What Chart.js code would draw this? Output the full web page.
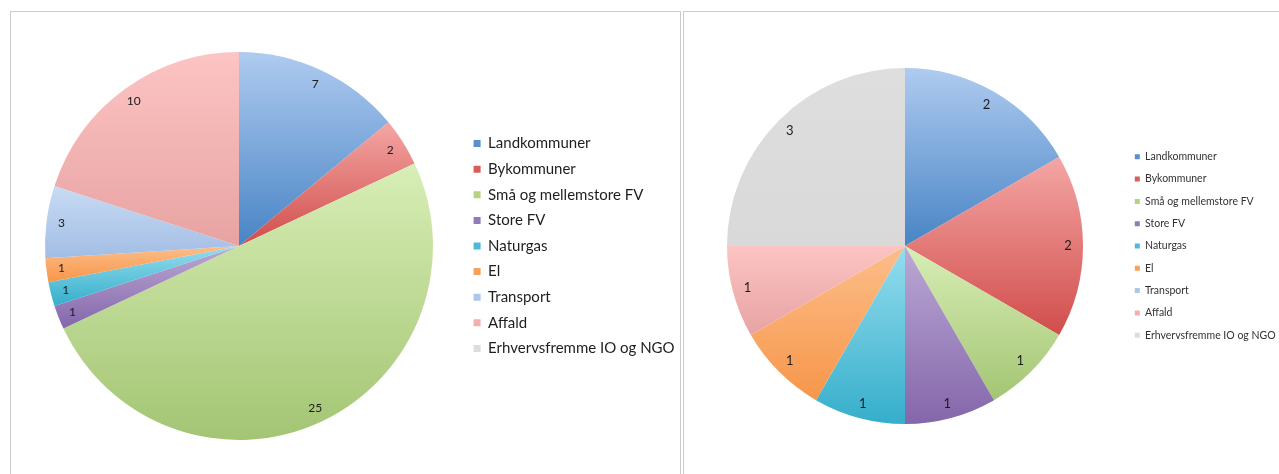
<!DOCTYPE html>
<html>
<head>
<meta charset="utf-8">
<script src="https://cdn.jsdelivr.net/npm/chart.js"></script>
<style>
  body { margin: 0; background: #fff; overflow: hidden; width: 1279px; height: 474px; position: relative; }
  .panel { position: absolute; top: 11px; height: 480px; border: 1px solid #cbcbcb; border-bottom: none; overflow: hidden; background: #fff; }
  #p1 { left: 10px; width: 669px; }
  #p2 { left: 683px; width: 620px; }
  canvas { position: absolute; left: 0; top: 0; }
</style>
</head>
<body>
<div class="panel" id="p1"><canvas id="leftChart" width="700" height="468"></canvas></div>
<div class="panel" id="p2"><canvas id="rightChart" width="640" height="468"></canvas></div>
<script>
const categories = ['Landkommuner', 'Bykommuner', 'Små og mellemstore FV', 'Store FV', 'Naturgas', 'El', 'Transport', 'Affald', 'Erhvervsfremme IO og NGO'];
const leftValues = [7, 2, 25, 1, 1, 1, 3, 10, 0];
const rightValues = [2, 2, 1, 1, 1, 1, 0, 1, 3];

// swatch colour + top/bottom gradient stops for each slice
const baseColors = ['#5b8fcf', '#d75d5b', '#b3d47f', '#9479b8', '#4fbad6', '#f9a05a', '#adc7ec', '#f1b0af', '#dcdcdc'];
const lightColors = ['#afcbf0', '#f4a6a4', '#d8eeb6', '#bba9d5', '#95ddee', '#fcbe8a', '#c8dbf3', '#fcc4c3', '#dedede'];
const darkColors = ['#4884c5', '#d04d4b', '#a3c573', '#8466aa', '#35aecb', '#f7964a', '#a2bde5', '#e7a3a2', '#d9d9d9'];

// vertical gradient spanning each slice's own bounding box
const sliceGradient = {
    id: 'sliceGradient',
    beforeDatasetsDraw(chart) {
        const ctx = chart.ctx;
        chart.getDatasetMeta(0).data.forEach((arc, i) => {
            const {x, y, outerRadius, startAngle, endAngle} = arc.getProps(['x', 'y', 'outerRadius', 'startAngle', 'endAngle']);
            let minY = y, maxY = y;
            for (let k = 0; k <= 40; k++) {
                const a = startAngle + (endAngle - startAngle) * k / 40;
                const py = y + Math.sin(a) * outerRadius;
                minY = Math.min(minY, py);
                maxY = Math.max(maxY, py);
            }
            const g = ctx.createLinearGradient(0, minY, 0, maxY + 0.01);
            g.addColorStop(0, lightColors[i]);
            g.addColorStop(1, darkColors[i]);
            arc.options = Object.assign({}, arc.options, {backgroundColor: g});
        });
    }
};

// value labels near the outer edge of each slice
const sliceLabels = {
    id: 'sliceLabels',
    afterDatasetsDraw(chart, args, opts) {
        const ctx = chart.ctx;
        const values = chart.data.datasets[0].data;
        ctx.save();
        ctx.font = opts.font;
        ctx.fillStyle = '#1c1c1c';
        ctx.textAlign = 'center';
        ctx.textBaseline = 'middle';
        chart.getDatasetMeta(0).data.forEach((arc, i) => {
            if (!values[i]) return;
            const {x, y, outerRadius, startAngle, endAngle} = arc.getProps(['x', 'y', 'outerRadius', 'startAngle', 'endAngle']);
            const mid = (startAngle + endAngle) / 2;
            const d = outerRadius - opts.inset;
            ctx.fillText(String(values[i]), x + Math.cos(mid) * d, y + Math.sin(mid) * d);
        });
        ctx.restore();
    }
};

function legendRightPad(canvasW, legendLeft, fontSize, boxW, pad) {
    const m = document.createElement('canvas').getContext('2d');
    m.font = fontSize + 'px Lato';
    const w = Math.max(...categories.map(t => m.measureText(t).width));
    return canvasW - legendLeft - (pad + boxW + fontSize / 2 + w + 10);
}

function makePie(id, values, cfg) {
    const canvas = document.getElementById(id);
    const padL = 2 * cfg.cx - cfg.legendLeft;
    const padR = legendRightPad(canvas.width, cfg.legendLeft, cfg.fontSize, cfg.boxW, cfg.pad);
    const padV = (canvas.height - 2 * cfg.r) / 2;
    return new Chart(canvas.getContext('2d'), {
        type: 'pie',
        data: {
            labels: categories,
            datasets: [{
                data: values,
                backgroundColor: baseColors,
                borderWidth: 0,
                offset: 0,
                hoverOffset: 0
            }]
        },
        options: {
            responsive: false,
            animation: false,
            events: [],
            layout: { padding: { left: padL, right: padR, top: padV, bottom: padV } },
            plugins: {
                tooltip: { enabled: false },
                legend: {
                    position: 'right',
                    align: 'center',
                    labels: {
                        boxWidth: cfg.boxW,
                        boxHeight: cfg.boxW,
                        padding: cfg.pad,
                        color: cfg.textColor,
                        font: { family: 'Lato', size: cfg.fontSize }
                    }
                },
                sliceLabels: { font: cfg.labelFont, inset: cfg.inset }
            }
        },
        plugins: [sliceGradient, sliceLabels]
    });
}

makePie('leftChart', leftValues, {
    cx: 228, r: 194, legendLeft: 452, fontSize: 15, boxW: 7, pad: 10.6,
    textColor: '#1e1e1e', labelFont: '12px Lato', inset: 15
});
makePie('rightChart', rightValues, {
    cx: 221, r: 178, legendLeft: 439, fontSize: 10.5, boxW: 5, pad: 11.8,
    textColor: '#333', labelFont: '13px Lato', inset: 15
});
</script>
</body>
</html>
